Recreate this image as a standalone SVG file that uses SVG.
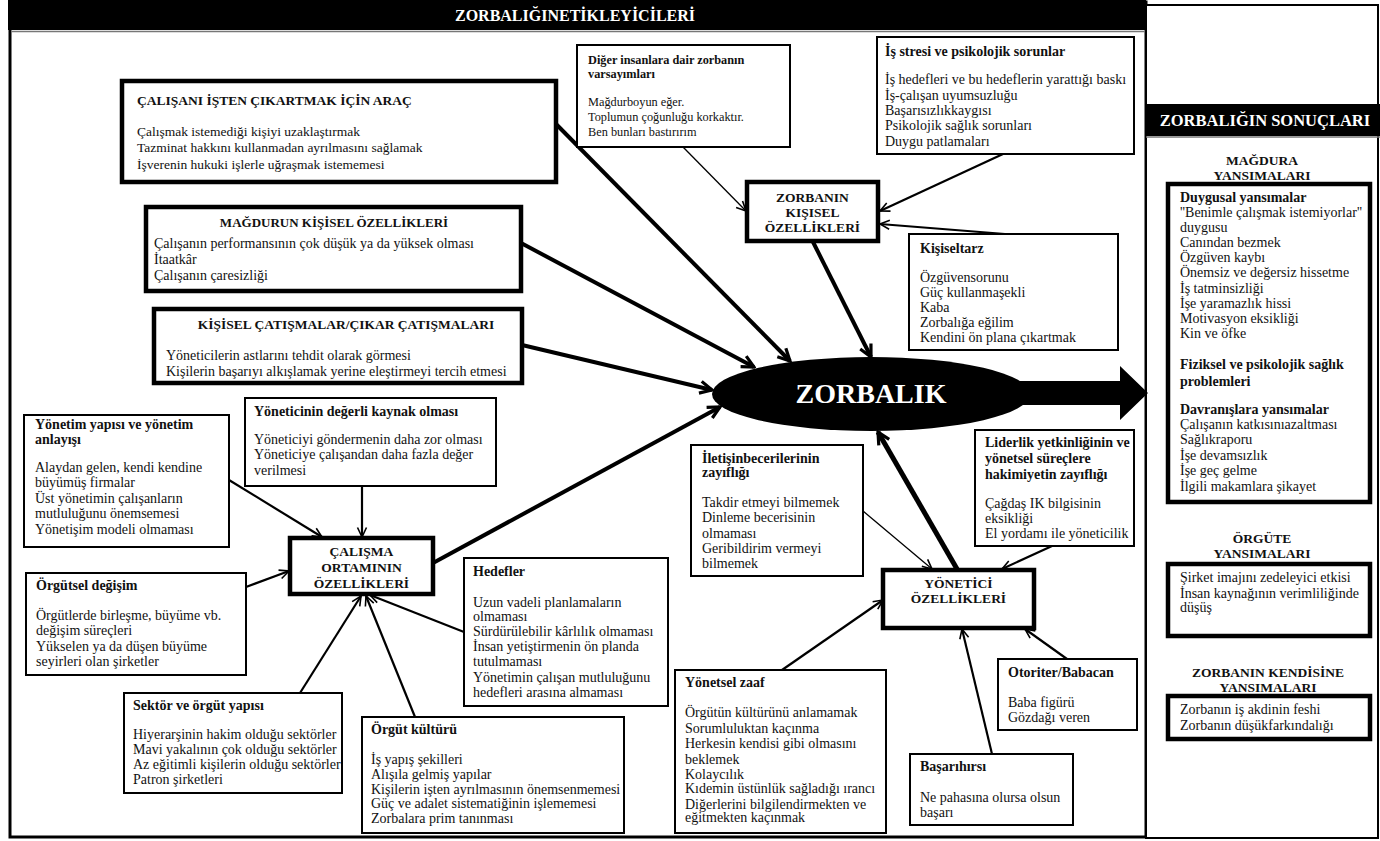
<svg xmlns="http://www.w3.org/2000/svg" width="1380" height="841" viewBox="0 0 1380 841">
<style>
text{font-family:"Liberation Serif","Times New Roman",serif;font-size:14px;fill:#111}
.b{font-weight:bold}
.c{text-anchor:middle}
.cap{font-weight:bold;font-size:13.5px}
.sm{font-size:12.3px}
.w{fill:#fff;font-weight:bold}
.thin{fill:#fff;stroke:#000;stroke-width:2}
.thick{fill:#fff;stroke:#000;stroke-width:4.5}
.l4{stroke:#000;stroke-width:4;fill:none;marker-end:url(#ahT)}
.l5{stroke:#000;stroke-width:5;fill:none;marker-end:url(#ahT)}
.l2{stroke:#000;stroke-width:2.2;fill:none;marker-end:url(#ah)}
.l1{stroke:#000;stroke-width:1.3;fill:none;marker-end:url(#ah)}
</style>
<defs>
<marker id="ahT" viewBox="0 0 16 16" refX="14" refY="8" markerWidth="16" markerHeight="16" markerUnits="userSpaceOnUse" orient="auto">
<path d="M2,2 L14,8 L2,14" fill="none" stroke="#000" stroke-width="3.2"/>
</marker>
<marker id="ah" viewBox="0 0 12 12" refX="11" refY="6" markerWidth="12" markerHeight="12" markerUnits="userSpaceOnUse" orient="auto">
<path d="M1.5,1.5 L11,6 L1.5,10.5" fill="none" stroke="#000" stroke-width="1.6"/>
</marker>
</defs>
<rect width="1380" height="841" fill="#fff"/>

<g id="frame">
<rect x="10" y="2" width="1136" height="835" fill="none" stroke="#000" stroke-width="3"/>
<rect x="8" y="0" width="1138" height="30" fill="#000"/>
<line x1="11" y1="31.5" x2="1145" y2="31.5" stroke="#777" stroke-width="1.5"/>
<text class="w c" x="575" y="21" style="font-size:16px">ZORBALIĞINETİKLEYİCİLERİ</text>
</g>

<g id="results-panel">
<rect x="1146" y="5" width="232" height="833" fill="#fff" stroke="#000" stroke-width="2"/>
<rect x="1146" y="104" width="234" height="32" fill="#000"/>
<line x1="1146" y1="137" x2="1380" y2="137" stroke="#777" stroke-width="1.5"/>
<text class="w c" x="1265" y="126" style="font-size:16.5px">ZORBALIĞIN SONUÇLARI</text>
<text class="b c" x="1262" y="165" style="font-size:13.5px">MAĞDURA</text>
<text class="b c" x="1262" y="180" style="font-size:13.5px">YANSIMALARI</text>
<rect class="thick" x="1168" y="184" width="202" height="318"/>
<text x="1180" y="202" class="b">Duygusal yansımalar</text>
<text x="1180" y="217">''Benimle çalışmak istemiyorlar''</text>
<text x="1180" y="232">duygusu</text>
<text x="1180" y="247">Canından bezmek</text>
<text x="1180" y="262">Özgüven kaybı</text>
<text x="1180" y="277">Önemsiz  ve değersiz hissetme</text>
<text x="1180" y="293">İş tatminsizliği</text>
<text x="1180" y="308">İşe yaramazlık hissi</text>
<text x="1180" y="323">Motivasyon eksikliği</text>
<text x="1180" y="338">Kin ve öfke</text>
<text x="1180" y="369" class="b">Fiziksel ve psikolojik sağlık</text>
<text x="1180" y="386" class="b">problemleri</text>
<text x="1180" y="414" class="b">Davranışlara yansımalar</text>
<text x="1180" y="429">Çalışanın katkısınıazaltması</text>
<text x="1180" y="444">Sağlıkraporu</text>
<text x="1180" y="460">İşe devamsızlık</text>
<text x="1180" y="475">İşe geç gelme</text>
<text x="1180" y="491">İlgili makamlara şikayet</text>
<text class="b c" x="1262" y="543" style="font-size:13.5px">ÖRGÜTE</text>
<text class="b c" x="1262" y="558" style="font-size:13.5px">YANSIMALARI</text>
<rect class="thick" x="1168" y="564" width="202" height="72"/>
<text x="1180" y="582">Şirket imajını zedeleyici etkisi</text>
<text x="1180" y="598">İnsan kaynağının verimliliğinde</text>
<text x="1180" y="612">düşüş</text>
<text class="b c" x="1268" y="677" style="font-size:13.5px">ZORBANIN KENDİSİNE</text>
<text class="b c" x="1268" y="692" style="font-size:13.5px">YANSIMALARI</text>
<rect class="thick" x="1168" y="696" width="202" height="43"/>
<text x="1180" y="714">Zorbanın iş akdinin feshi</text>
<text x="1180" y="730">Zorbanın düşükfarkındalığı</text>
</g>

<g id="connectors">
<line class="l4" x1="556" y1="124" x2="790" y2="361"/>
<line class="l4" x1="521" y1="243" x2="754" y2="367"/>
<line class="l4" x1="522" y1="345" x2="712" y2="390"/>
<line class="l4" x1="433" y1="563" x2="720" y2="407"/>
<line class="l4" x1="813" y1="242" x2="871" y2="357"/>
<line class="l5" x1="957" y1="569" x2="878" y2="432"/>
<line class="l1" x1="683" y1="147" x2="746" y2="211"/>
<line class="l2" x1="1003" y1="154" x2="880" y2="211"/>
<line class="l2" x1="1005" y1="234" x2="880" y2="224"/>
<line class="l2" x1="229" y1="480" x2="322" y2="537"/>
<line class="l2" x1="362" y1="486" x2="362" y2="537"/>
<line class="l2" x1="246" y1="587" x2="289" y2="571"/>
<line class="l2" x1="300" y1="693" x2="361" y2="596"/>
<line class="l2" x1="415" y1="717" x2="366" y2="596"/>
<line class="l2" x1="464" y1="632" x2="370" y2="595"/>
<line class="l1" x1="863" y1="511" x2="932" y2="569"/>
<line class="l2" x1="1052" y1="546" x2="1002" y2="569"/>
<line class="l2" x1="782" y1="670" x2="883" y2="600"/>
<line class="l2" x1="992" y1="754" x2="962" y2="629"/>
<line class="l2" x1="1067" y1="659" x2="1025" y2="629"/>
<polygon points="1000,381 1120,381 1120,366 1148,393 1120,420 1120,405 1000,405" fill="#000"/>
</g>

<g id="n-zorbalik">
<ellipse cx="871" cy="394" rx="159" ry="37" fill="#000"/>
<text class="w c" x="871" y="403" style="font-size:28px">ZORBALIK</text>
</g>

<g id="n-calisani">
<rect class="thick" x="122" y="81" width="434" height="101"/>
<text x="137" y="105" class="b" style="font-size:13.5px">ÇALIŞANI İŞTEN ÇIKARTMAK İÇİN ARAÇ</text>
<text x="137" y="136" style="font-size:13.5px">Çalışmak istemediği kişiyi uzaklaştırmak</text>
<text x="137" y="152" style="font-size:13.5px">Tazminat hakkını kullanmadan ayrılmasını sağlamak</text>
<text x="137" y="169" style="font-size:13.5px">İşverenin hukuki işlerle uğraşmak istememesi</text>
</g>

<g id="n-diger">
<rect class="thin" x="577" y="45" width="213" height="102"/>
<text x="588" y="64" class="b sm">Diğer insanlara dair zorbanın</text>
<text x="588" y="78" class="b sm">varsayımları</text>
<text x="588" y="106" class="sm">Mağdurboyun eğer.</text>
<text x="588" y="121" class="sm">Toplumun çoğunluğu korkaktır.</text>
<text x="588" y="136" class="sm">Ben bunları bastırırım</text>
</g>

<g id="n-isstresi">
<rect class="thin" x="877" y="37" width="257" height="117"/>
<text x="885" y="56" class="b">İş stresi ve psikolojik sorunlar</text>
<text x="885" y="84">İş hedefleri ve bu hedeflerin yarattığı baskı</text>
<text x="885" y="100">İş-çalışan uyumsuzluğu</text>
<text x="885" y="115">Başarısızlıkkaygısı</text>
<text x="885" y="130">Psikolojik sağlık sorunları</text>
<text x="885" y="146">Duygu patlamaları</text>
</g>

<g id="n-zorbanin">
<rect class="thick" x="747" y="182" width="131" height="59"/>
<text class="cap c" x="812.5" y="202">ZORBANIN</text>
<text class="cap c" x="812.5" y="217">KIŞISEL</text>
<text class="cap c" x="812.5" y="232">ÖZELLİKLERİ</text>
</g>

<g id="n-kisiseltarz">
<rect class="thin" x="909" y="234" width="209" height="116"/>
<text x="920" y="253" class="b">Kişiseltarz</text>
<text x="920" y="282">Özgüvensorunu</text>
<text x="920" y="297">Güç kullanmaşekli</text>
<text x="920" y="312">Kaba</text>
<text x="920" y="327">Zorbalığa eğilim</text>
<text x="920" y="342">Kendini ön plana çıkartmak</text>
</g>

<g id="n-magdurun">
<rect class="thick" x="146" y="207" width="375" height="84"/>
<text class="b c" x="334" y="227" style="font-size:13px">MAĞDURUN KİŞİSEL ÖZELLİKLERİ</text>
<text x="154" y="248">Çalışanın performansının çok düşük ya da yüksek olması</text>
<text x="154" y="264">İtaatkâr</text>
<text x="154" y="280">Çalışanın çaresizliği</text>
</g>

<g id="n-catisma">
<rect class="thick" x="154" y="309" width="368" height="74"/>
<text class="b c" x="346" y="329" style="font-size:13.5px">KİŞİSEL  ÇATIŞMALAR/ÇIKAR ÇATIŞMALARI</text>
<text x="166" y="360">Yöneticilerin astlarını tehdit olarak görmesi</text>
<text x="166" y="376">Kişilerin başarıyı alkışlamak yerine eleştirmeyi tercih etmesi</text>
</g>

<g id="n-yonetim">
<rect class="thin" x="24" y="415" width="205" height="132"/>
<text x="35" y="429" class="b">Yönetim yapısı ve yönetim</text>
<text x="35" y="444" class="b">anlayışı</text>
<text x="35" y="472">Alaydan gelen, kendi kendine</text>
<text x="35" y="487">büyümüş firmalar</text>
<text x="35" y="503">Üst yönetimin çalışanların</text>
<text x="35" y="518">mutluluğunu önemsemesi</text>
<text x="35" y="534">Yönetişim modeli olmaması</text>
</g>

<g id="n-yoneticinin">
<rect class="thin" x="245" y="398" width="251" height="88"/>
<text x="254" y="416" class="b">Yöneticinin değerli kaynak olması</text>
<text x="254" y="444">Yöneticiyi göndermenin daha zor olması</text>
<text x="254" y="459">Yöneticiye çalışandan daha fazla değer</text>
<text x="254" y="475">verilmesi</text>
</g>

<g id="n-calisma">
<rect class="thick" x="290" y="538" width="143" height="56"/>
<text class="cap c" x="361.5" y="556">ÇALIŞMA</text>
<text class="cap c" x="361.5" y="572">ORTAMININ</text>
<text class="cap c" x="361.5" y="588">ÖZELLİKLERİ</text>
</g>

<g id="n-orgutsel">
<rect class="thin" x="26" y="573" width="220" height="102"/>
<text x="36" y="590" class="b">Örgütsel değişim</text>
<text x="36" y="620">Örgütlerde birleşme, büyüme vb.</text>
<text x="36" y="635">değişim süreçleri</text>
<text x="36" y="651">Yükselen ya da düşen büyüme</text>
<text x="36" y="666">seyirleri olan şirketler</text>
</g>

<g id="n-hedefler">
<rect class="thin" x="464" y="558" width="204" height="148"/>
<text x="473" y="576" class="b">Hedefler</text>
<text x="473" y="607">Uzun vadeli planlamaların</text>
<text x="473" y="621">olmaması</text>
<text x="473" y="636">Sürdürülebilir kârlılık olmaması</text>
<text x="473" y="651">İnsan yetiştirmenin ön planda</text>
<text x="473" y="666">tutulmaması</text>
<text x="473" y="682">Yönetimin çalışan mutluluğunu</text>
<text x="473" y="697">hedefleri arasına almaması</text>
</g>

<g id="n-sektor">
<rect class="thin" x="124" y="693" width="218" height="100"/>
<text x="133" y="710" class="b">Sektör ve örgüt yapısı</text>
<text x="133" y="739">Hiyerarşinin hakim olduğu sektörler</text>
<text x="133" y="754">Mavi yakalının çok olduğu sektörler</text>
<text x="133" y="769">Az eğitimli kişilerin olduğu sektörler</text>
<text x="133" y="784">Patron şirketleri</text>
</g>

<g id="n-kultur">
<rect class="thin" x="362" y="717" width="262" height="116"/>
<text x="371" y="734" class="b">Örgüt kültürü</text>
<text x="371" y="764">İş yapış şekilleri</text>
<text x="371" y="779">Alışıla gelmiş yapılar</text>
<text x="371" y="794">Kişilerin işten ayrılmasının önemsenmemesi</text>
<text x="371" y="808">Güç ve adalet sistematiğinin işlememesi</text>
<text x="371" y="823">Zorbalara prim tanınması</text>
</g>

<g id="n-iletisim">
<rect class="thin" x="691" y="445" width="172" height="131"/>
<text x="702" y="463" class="b">İletişinbecerilerinin</text>
<text x="702" y="477" class="b">zayıflığı</text>
<text x="702" y="507">Takdir etmeyi bilmemek</text>
<text x="702" y="522">Dinleme becerisinin</text>
<text x="702" y="538">olmaması</text>
<text x="702" y="553">Geribildirim vermeyi</text>
<text x="702" y="568">bilmemek</text>
</g>

<g id="n-liderlik">
<rect class="thin" x="975" y="430" width="159" height="116"/>
<text x="985" y="447" class="b">Liderlik yetkinliğinin ve</text>
<text x="985" y="463" class="b">yönetsel süreçlere</text>
<text x="985" y="479" class="b">hakimiyetin zayıflığı</text>
<text x="985" y="508">Çağdaş IK bilgisinin</text>
<text x="985" y="523">eksikliği</text>
<text x="985" y="538">El yordamı ile yöneticilik</text>
</g>

<g id="n-yonetici">
<rect class="thick" x="883" y="570" width="151" height="58"/>
<text class="cap c" x="958.5" y="588">YÖNETİCİ</text>
<text class="cap c" x="958.5" y="603">ÖZELLİKLERİ</text>
</g>

<g id="n-zaaf">
<rect class="thin" x="675" y="670" width="211" height="163"/>
<text x="685" y="687" class="b">Yönetsel zaaf</text>
<text x="685" y="717">Örgütün kültürünü anlamamak</text>
<text x="685" y="733">Sorumluluktan kaçınma</text>
<text x="685" y="748">Herkesin kendisi gibi olmasını</text>
<text x="685" y="764">beklemek</text>
<text x="685" y="779">Kolaycılık</text>
<text x="685" y="793">Kıdemin üstünlük sağladığı ırancı</text>
<text x="685" y="809">Diğerlerini bilgilendirmekten ve</text>
<text x="685" y="822">eğitmekten kaçınmak</text>
</g>

<g id="n-otoriter">
<rect class="thin" x="998" y="659" width="139" height="71"/>
<text x="1008" y="677" class="b">Otoriter/Babacan</text>
<text x="1008" y="707">Baba figürü</text>
<text x="1008" y="722">Gözdağı veren</text>
</g>

<g id="n-basari">
<rect class="thin" x="910" y="754" width="163" height="71"/>
<text x="920" y="771" class="b">Başarıhırsı</text>
<text x="920" y="802">Ne pahasına olursa olsun</text>
<text x="920" y="817">başarı</text>
</g>
</svg>
